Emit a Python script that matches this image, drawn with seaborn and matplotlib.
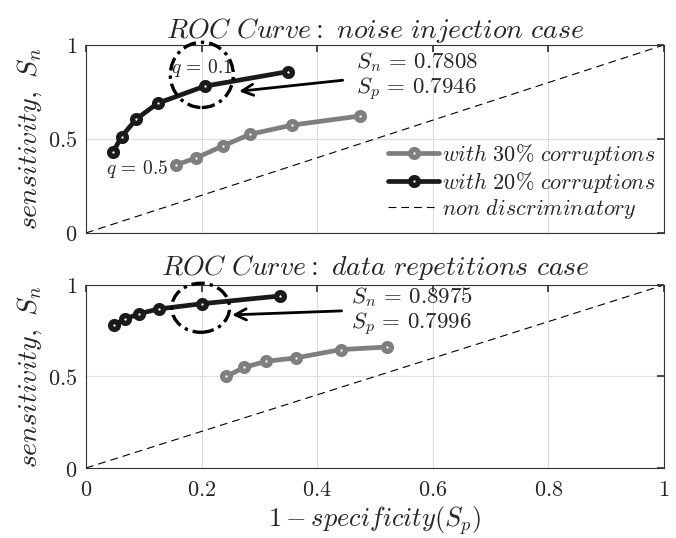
import numpy as np
import pandas as pd
import matplotlib
matplotlib.use("Agg")
import matplotlib.pyplot as plt
from matplotlib.patches import Ellipse
import seaborn as sns

sns.set_theme(style="white")
plt.rcParams["mathtext.fontset"] = "cm"
plt.rcParams["font.family"] = ["DejaVu Serif"]
plt.rcParams["axes.unicode_minus"] = False

# --- data ---
noise_fpr_30 = [0.156, 0.191, 0.237, 0.284, 0.357, 0.474]
noise_tpr_30 = [0.362, 0.400, 0.463, 0.525, 0.574, 0.622]
noise_fpr_20 = [0.047, 0.0615, 0.087, 0.124, 0.2054, 0.349]
noise_tpr_20 = [0.432, 0.512, 0.606, 0.690, 0.7808, 0.858]

rep_fpr_30 = [0.2425, 0.274, 0.3115, 0.364, 0.441, 0.521]
rep_tpr_30 = [0.500, 0.550, 0.583, 0.602, 0.647, 0.661]
rep_fpr_20 = [0.049, 0.067, 0.0914, 0.126, 0.2004, 0.336]
rep_tpr_20 = [0.784, 0.812, 0.843, 0.869, 0.8975, 0.940]

diag = [0, 1]
x_ticks = [0, 0.2, 0.4, 0.6, 0.8, 1]
x_ticklabels = ["$0$", "$0.2$", "$0.4$", "$0.6$", "$0.8$", "$1$"]
y_ticks = [0, 0.5, 1]
y_ticklabels = ["$0$", "$0.5$", "$1$"]

titles = [r"$ROC\ Curve:\ noise\ injection\ case$",
          r"$ROC\ Curve:\ data\ repetitions\ case$"]
labels = [r"$with\ 30\%\ corruptions$", r"$with\ 20\%\ corruptions$",
          r"$non\ discriminatory$"]
annot_top = "$S_n \\,=\\, 0.7808$\n$S_p \\,=\\, 0.7946$"
annot_bot = "$S_n \\,=\\, 0.8975$\n$S_p \\,=\\, 0.7996$"

grey = "#7f7f7f"
black = "#1a1a1a"

fig = plt.figure(figsize=(6.76, 5.38), dpi=100)
ax1 = fig.add_axes([0.1272, 0.567, 0.855, 0.3494])
ax2 = fig.add_axes([0.1272, 0.1301, 0.855, 0.3402])

mk = dict(marker="o", markersize=5.6, markeredgewidth=3.8, markerfacecolor="white")


def draw(ax, fx30, ty30, fx20, ty20):
    d30 = pd.DataFrame({"x": fx30, "y": ty30})
    d20 = pd.DataFrame({"x": fx20, "y": ty20})
    sns.lineplot(data=d30, x="x", y="y", ax=ax, color=grey, lw=3.4, sort=False,
                 estimator=None, markeredgecolor=grey, label=labels[0], **mk)
    sns.lineplot(data=d20, x="x", y="y", ax=ax, color=black, lw=3.4, sort=False,
                 estimator=None, markeredgecolor=black, label=labels[1], **mk)
    sns.lineplot(x=diag, y=diag, ax=ax, color="black", lw=0.8, sort=False,
                 estimator=None, label=labels[2])
    ax.lines[-1].set_dashes([7, 4.5])
    ax.set_xlim(0, 1)
    ax.set_ylim(0, 1)
    ax.set_xticks(x_ticks)
    ax.set_yticks(y_ticks)
    ax.set_yticklabels(y_ticklabels, fontsize=16)
    ax.grid(True, color="#dddddd", lw=0.8)
    ax.tick_params(direction="in", length=5, top=True, right=True, color="#333333",
                   labelsize=16, pad=6)
    for s in ax.spines.values():
        s.set_color("#333333")
        s.set_linewidth(0.8)
    ax.set_ylabel(r"$sensitivity,\ S_n$", fontsize=20, labelpad=3)
    ax.set_xlabel("")


draw(ax1, noise_fpr_30, noise_tpr_30, noise_fpr_20, noise_tpr_20)
draw(ax2, rep_fpr_30, rep_tpr_30, rep_fpr_20, rep_tpr_20)

ax1.set_xticklabels([])
ax2.set_xticklabels(x_ticklabels, fontsize=16)
ax2.tick_params(axis="x", pad=8)
ax2.set_xlabel(r"$1 - specificity(S_p)$", fontsize=19, labelpad=2)

ax1.set_title(titles[0], fontsize=20, pad=5)
ax2.set_title(titles[1], fontsize=20, pad=7)

ax1.legend(loc="lower right", frameon=False, fontsize=16, handlelength=2.3,
           handletextpad=0.1, borderaxespad=0.0, labelspacing=0.12,
           bbox_to_anchor=(1.0, 0.015))
ax2.legend_.remove()

# highlighted points (dash-dot circles around the chosen operating point)
dashdot = (0, (4, 1.5, 1, 1.5))
ax1.add_patch(Ellipse((noise_fpr_20[4] - 0.005, noise_tpr_20[4] + 0.06), 0.109, 0.347,
                      fill=False, ec="black", lw=2.4, ls=dashdot, zorder=3,
                      clip_on=False))
ax2.add_patch(Ellipse((rep_fpr_20[4] - 0.002, rep_tpr_20[4] - 0.022), 0.10, 0.268,
                      fill=False, ec="black", lw=2.4, ls=dashdot, zorder=3,
                      clip_on=False))

ax1.annotate("", xy=(0.26, 0.752), xytext=(0.449, 0.814),
             arrowprops=dict(arrowstyle="->", lw=2, color="black",
                             mutation_scale=20))
ax2.annotate("", xy=(0.248, 0.836), xytext=(0.447, 0.859),
             arrowprops=dict(arrowstyle="->", lw=2, color="black",
                             mutation_scale=20))

ax1.text(0.467, 0.83, annot_top, fontsize=16.5, va="center", ha="left",
         linespacing=1.1)
ax2.text(0.459, 0.855, annot_bot, fontsize=16.5, va="center", ha="left",
         linespacing=1.1)

ax1.text(0.2, 0.875, r"$q \,=\, 0.1$", fontsize=14, ha="center", va="center",
         zorder=10)
ax1.text(0.143, 0.34, r"$q \,=\, 0.5$", fontsize=14, ha="right", va="center",
         zorder=10)

fig.savefig("out.png", dpi=100)
